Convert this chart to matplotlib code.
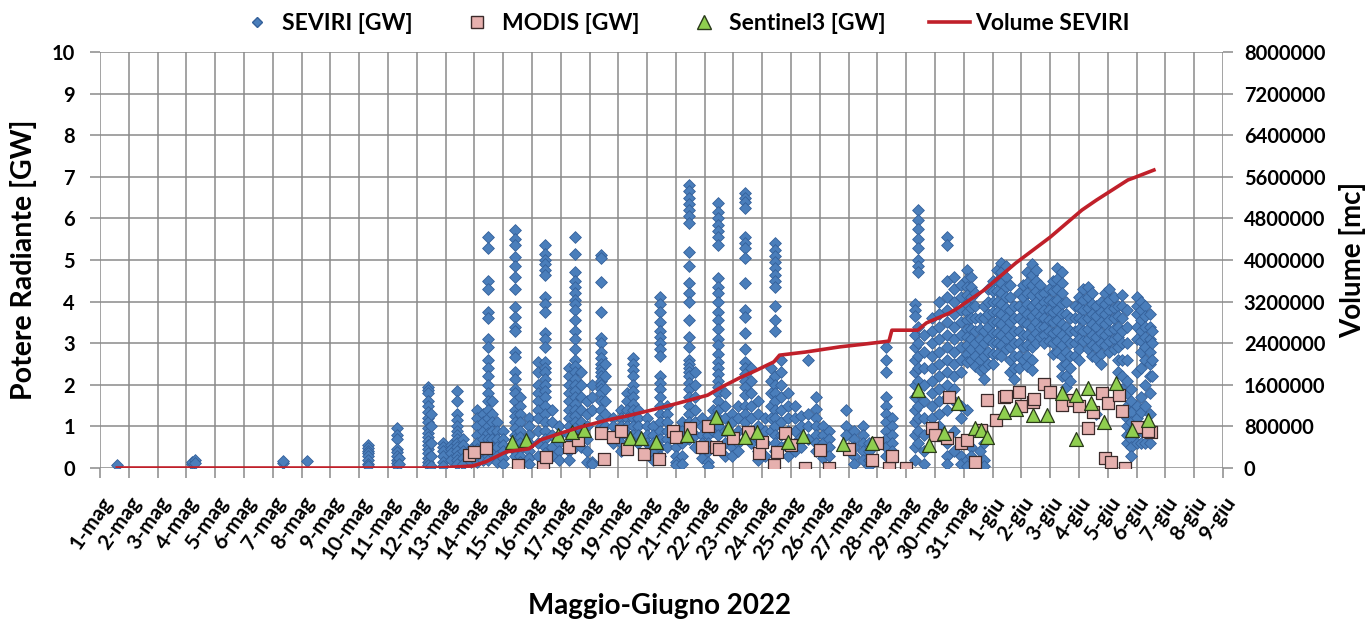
import numpy as np
import matplotlib
matplotlib.use('Agg')
import matplotlib.pyplot as plt
import matplotlib.transforms as mtransforms
from matplotlib.lines import Line2D
from matplotlib import font_manager as fm


def _has_bold(fam):
    for f in fm.fontManager.ttflist:
        if f.name != fam:
            continue
        w = f.weight
        if isinstance(w, str):
            if 'bold' in w.lower() or 'heavy' in w.lower() or 'black' in w.lower():
                return True
        elif w >= 600:
            return True
    return False


_fam = 'DejaVu Sans'
for cand in ['Lato', 'Open Sans', 'Noto Sans', 'Roboto', 'Liberation Sans']:
    if _has_bold(cand):
        _fam = cand
        break
plt.rcParams['font.family'] = [_fam, 'DejaVu Sans']
plt.rcParams['font.weight'] = 'bold'
plt.rcParams['axes.labelweight'] = 'bold'

# ---------------- data ----------------
day_labels = ['1-mag', '2-mag', '3-mag', '4-mag', '5-mag', '6-mag', '7-mag', '8-mag', '9-mag', '10-mag',
              '11-mag', '12-mag', '13-mag', '14-mag', '15-mag', '16-mag', '17-mag', '18-mag', '19-mag',
              '20-mag', '21-mag', '22-mag', '23-mag', '24-mag', '25-mag', '26-mag', '27-mag', '28-mag',
              '29-mag', '30-mag', '31-mag', '1-giu', '2-giu', '3-giu', '4-giu', '5-giu', '6-giu', '7-giu',
              '8-giu', '9-giu']

# SEVIRI: time (days since 1 May) of each burst and the radiant power values [GW] of that burst
seviri_day = [0.6, 3.2, 3.3, 6.35, 7.2, 9.3, 10.3, 10.4, 11.4, 11.5, 11.9, 12.2, 12.4, 12.6, 12.9,
              13.1, 13.3, 13.47, 13.6, 13.8, 14.0, 14.4, 14.6, 14.9, 15.2, 15.45, 15.7, 15.95,
              16.3, 16.5, 16.7, 16.9, 17.1, 17.4, 17.55, 17.8, 18.1, 18.3, 18.5, 18.7,
              19.0, 19.2, 19.45, 19.7, 20.0, 20.2, 20.45, 20.65, 20.9, 21.1, 21.3, 21.45, 21.7,
              21.95, 22.15, 22.4, 22.6, 22.85, 23.1, 23.3, 23.45, 23.65, 23.9, 24.15, 24.35, 24.6,
              24.85, 25.1, 25.3, 25.9, 26.2, 26.5, 26.7, 27.3, 27.5, 28.3, 28.4, 28.6, 28.9, 29.15,
              29.4, 29.65, 29.9, 30.1, 30.25, 30.4, 30.55, 30.7, 30.85, 31.0, 31.15, 31.3, 31.45,
              31.6, 31.75, 31.9, 32.05, 32.2, 32.35, 32.5, 32.65, 32.8, 32.95, 33.1, 33.25, 33.4,
              33.55, 33.7, 33.85, 34.0, 34.15, 34.3, 34.45, 34.6, 34.75, 34.9, 35.05, 35.2, 35.35,
              35.5, 35.65, 35.8, 36.0, 36.15, 36.3, 36.45, 36.55]
seviri_gw = [
    [0.08], [0.1, 0.15], [0.2, 0.12], [0.12, 0.16], [0.17],
    [0.55, 0.48, 0.42, 0.35, 0.28, 0.2, 0.1, 0.05],
    [0.95, 0.8, 0.7, 0.45, 0.38, 0.3, 0.2, 0.12, 0.05],
    [0.25, 0.1],
    [1.95, 1.88, 1.8, 1.6, 1.5, 1.35, 1.2, 1.1, 0.95, 0.85, 0.75, 0.65, 0.55, 0.45, 0.35, 0.25, 0.15, 0.08],
    [1.3, 1.0, 0.6, 0.3, 0.05],
    [0.6, 0.5, 0.4, 0.3, 0.15, 0.05],
    [0.55, 0.45, 0.35, 0.2],
    [1.85, 1.6, 1.3, 1.15, 1.0, 0.9, 0.8, 0.7, 0.6, 0.5, 0.4, 0.3, 0.2, 0.1],
    [0.7, 0.55, 0.4, 0.25, 0.1],
    [0.45, 0.3, 0.15],
    [1.4, 1.2, 1.0, 0.8, 0.6, 0.45, 0.3, 0.15],
    [1.3, 1.1, 0.9, 0.7, 0.5, 0.35, 0.2],
    [5.55, 5.3, 4.5, 4.3, 3.75, 3.6, 3.1, 2.9, 2.6, 2.4, 2.2, 2.0, 1.8, 1.6, 1.4, 1.2, 1.0, 0.85, 0.7, 0.55, 0.4, 0.3, 0.2],
    [1.6, 1.3, 1.1, 0.9, 0.7, 0.5, 0.35],
    [1.1, 0.9, 0.7, 0.5, 0.3, 0.15],
    [0.9, 0.7, 0.55, 0.4, 0.25, 0.1],
    [5.72, 5.5, 5.35, 5.07, 4.85, 4.6, 4.3, 3.87, 3.64, 3.4, 3.3, 2.8, 2.68, 2.3, 2.15, 1.9, 1.8, 1.6, 1.4, 1.25, 1.1, 0.95, 0.8, 0.7, 0.6, 0.5, 0.4, 0.3],
    [1.7, 1.5, 1.3, 1.1, 0.9, 0.75, 0.6, 0.45, 0.3, 0.15],
    [1.2, 1.0, 0.8, 0.6, 0.4, 0.25, 0.1],
    [2.55, 2.3, 2.0, 1.8, 1.6, 1.4, 1.2, 0.9, 0.6, 0.3],
    [5.36, 5.15, 5.0, 4.9, 4.75, 4.65, 4.1, 3.95, 3.75, 3.25, 3.1, 2.9, 2.55, 2.4, 2.3, 2.15, 2.0, 1.85, 1.7, 1.5, 1.3, 1.1, 0.9, 0.7, 0.5, 0.35, 0.2],
    [1.4, 1.1, 0.8, 0.5, 0.3],
    [1.0, 0.8, 0.6, 0.4, 0.2],
    [2.4, 2.2, 2.0, 1.8, 1.6, 1.4, 1.2, 1.0, 0.8, 0.6, 0.4, 0.2],
    [5.55, 5.15, 4.7, 4.5, 4.35, 4.2, 4.05, 3.95, 3.8, 3.55, 3.3, 3.1, 2.85, 2.6, 2.45, 2.3, 2.15, 2.0, 1.85, 1.7, 1.55, 1.4, 1.25, 1.1, 0.95, 0.8, 0.65, 0.5],
    [2.3, 2.0, 1.7, 1.4, 1.1, 0.8, 0.5],
    [1.6, 1.3, 1.0, 0.7, 0.4, 0.15],
    [2.0, 1.7, 1.4, 0.15, 0.1],
    [5.12, 5.05, 4.47, 3.75, 3.12, 3.0, 2.8, 2.65, 2.5, 2.4, 2.3, 2.2, 2.1, 2.0, 1.9, 1.8, 1.6, 1.4, 1.2, 1.0, 0.85],
    [2.5, 2.2, 1.9, 1.6, 1.3, 1.0],
    [1.2, 1.0, 0.8, 0.6],
    [1.4, 1.2, 1.0, 0.8, 0.6, 0.4],
    [1.8, 1.6, 1.4, 1.2, 1.0, 0.8],
    [2.65, 2.5, 2.35, 2.2, 2.0, 1.85, 1.7, 1.55, 1.4, 1.2, 1.0, 0.8],
    [1.4, 1.2, 1.0, 0.8, 0.6],
    [1.2, 1.0, 0.8, 0.6, 0.4],
    [1.0, 0.8, 0.6, 0.35, 0.2],
    [4.1, 3.95, 3.75, 3.5, 3.3, 3.15, 3.0, 2.85, 2.7, 2.2, 2.05, 1.9, 1.7, 1.5, 1.3, 1.1, 0.9, 0.7, 0.5, 0.3],
    [1.5, 1.3, 1.1, 0.9, 0.7, 0.5],
    [0.9, 0.7, 0.5, 0.3, 0.15, 0.08],
    [1.1, 0.9, 0.6, 0.3, 0.1],
    [6.8, 6.65, 6.5, 6.35, 6.2, 6.05, 5.9, 5.2, 4.85, 4.45, 4.2, 4.0, 3.55, 3.15, 2.9, 2.6, 2.5, 2.4, 2.3, 2.2, 2.05, 1.9, 1.7, 1.5, 1.3, 1.1, 0.9, 0.7],
    [2.3, 2.0, 1.7, 1.4, 1.1, 0.8, 0.5],
    [1.2, 1.0, 0.8, 0.6, 0.4, 0.25],
    [1.0, 0.8, 0.6, 0.4, 0.15, 0.05],
    [1.4, 1.2, 0.9],
    [6.37, 6.15, 6.0, 5.85, 5.7, 5.55, 5.35, 4.57, 4.35, 4.2, 4.0, 3.75, 3.55, 3.35, 3.1, 2.95, 2.75, 2.55, 2.4, 2.25, 2.1, 1.95, 1.8, 1.6, 1.4, 1.2, 1.0, 0.8],
    [1.8, 1.5, 1.2, 0.9, 0.6, 0.3],
    [1.3, 1.1, 0.8, 0.5, 0.3],
    [1.5, 1.2, 0.9, 0.6, 0.4],
    [6.6, 6.5, 6.4, 6.25, 5.55, 5.4, 5.3, 5.05, 4.45, 3.8, 3.63, 3.25, 2.85, 2.55, 2.4, 2.25, 2.1, 1.95, 1.75, 1.5, 1.3, 1.1, 0.9],
    [2.4, 2.1, 1.8, 1.5, 1.2, 0.9, 0.6],
    [1.6, 1.3, 1.0, 0.7, 0.4, 0.2],
    [1.2, 0.9, 0.6, 0.3],
    [2.4, 2.1, 1.8, 1.5, 1.2, 0.9],
    [5.4, 5.25, 5.1, 4.95, 4.8, 4.65, 4.5, 4.35, 3.9, 3.55, 3.3, 2.2, 2.0, 1.8, 1.6, 1.4, 1.2, 1.0, 0.8, 0.6, 0.4],
    [2.6, 2.3, 2.0, 1.7, 1.4, 1.1, 0.8, 0.5],
    [1.8, 1.5, 1.2, 0.9, 0.6, 0.3],
    [1.5, 1.2, 0.9, 0.6, 0.4],
    [1.25, 1.0, 0.75, 0.5],
    [2.6, 1.3, 1.0, 0.7],
    [1.7, 1.43, 1.2, 1.0, 0.8, 0.6, 0.4],
    [1.0, 0.8, 0.6, 0.4, 0.25],
    [0.9, 0.7, 0.5, 0.3],
    [1.4, 1.0, 0.8],
    [0.9, 0.7, 0.5, 0.3, 0.1],
    [1.0, 0.8, 0.6, 0.4, 0.2],
    [0.6, 0.4, 0.2, 0.05],
    [2.9, 2.6, 2.3, 1.7, 1.5, 1.3, 1.1, 0.9, 0.7, 0.5, 0.3],
    [1.2, 1.0, 0.8, 0.6, 0.4, 0.2],
    [3.95, 3.8, 3.65, 3.2, 2.9, 2.6, 2.3, 2.0, 1.7, 1.4, 1.1, 0.8, 0.5, 0.2],
    [6.2, 5.95, 5.75, 5.5, 5.3, 5.0, 4.85, 4.7, 3.4, 3.0, 2.7, 2.4, 2.1, 1.8, 1.5, 1.2, 0.9, 0.6],
    [3.2, 2.8, 2.4, 2.0, 1.6, 1.2, 0.8, 0.4, 0.1],
    [3.6, 3.3, 3.0, 2.7, 2.4, 2.1, 1.8, 1.5, 1.2],
    [4.0, 3.7, 3.4, 3.1, 2.8, 2.5, 2.2, 1.9, 1.6, 1.3, 1.0],
    [5.55, 5.35, 4.5, 4.1, 3.8, 3.5, 3.2, 2.9, 2.6, 2.3, 2.0, 1.7, 1.4, 0.6, 0.3, 0.1],
    [4.6, 4.3, 4.0, 3.7, 3.4, 3.1, 2.8, 2.5, 2.2, 1.9, 1.6, 0.9, 0.4],
    [4.4, 4.1, 3.8, 3.5, 3.2, 2.9, 2.6, 2.3, 1.5, 1.2, 0.3, 0.1],
    [4.75, 4.55, 4.35, 4.15, 3.95, 3.75, 3.55, 3.35, 3.15, 2.95, 2.75, 2.55, 1.4, 0.2, 0.05],
    [4.6, 4.35, 4.1, 3.85, 3.6, 3.35, 3.1, 2.85, 2.6, 0.5, 0.3],
    [4.2, 3.9, 3.6, 3.3, 3.0, 2.7, 2.45],
    [3.6, 3.35, 3.1, 2.85, 2.6, 2.35, 0.9, 0.4, 0.1],
    [3.9, 3.6, 3.3, 3.0, 2.7, 2.4, 2.15, 0.6, 0.2, 0.05],
    [4.3, 4.0, 3.7, 3.4, 3.1, 2.8, 2.5],
    [4.5, 4.25, 4.0, 3.75, 3.5, 3.25, 3.0, 2.75, 2.5],
    [4.75, 4.5, 4.25, 4.0, 3.75, 3.5, 3.25, 3.0, 2.75],
    [4.93, 4.7, 4.45, 4.2, 3.95, 3.7, 3.45, 3.2, 2.95, 2.7],
    [4.85, 4.6, 4.35, 4.1, 3.85, 3.6, 3.35, 3.1, 2.85],
    [4.4, 4.1, 3.8, 3.5, 3.2, 2.9, 2.6, 2.3],
    [3.9, 3.6, 3.3, 3.0, 2.7, 2.4, 2.15],
    [4.2, 3.9, 3.6, 3.3, 3.0, 2.7, 2.4],
    [4.4, 4.1, 3.8, 3.5, 3.2, 2.9, 2.6],
    [4.7, 4.45, 4.2, 3.95, 3.7, 3.45, 3.2, 2.95, 2.7, 2.45],
    [4.9, 4.65, 4.4, 4.15, 3.9, 3.65, 3.4, 3.15, 2.9, 2.6, 2.36],
    [4.75, 4.5, 4.25, 4.0, 3.75, 3.5, 3.25, 3.0],
    [4.4, 4.15, 3.9, 3.65, 3.4, 3.15],
    [4.2, 4.0, 3.8, 3.6, 3.4, 3.2, 3.0],
    [4.3, 4.05, 3.8, 3.55, 3.3, 3.05],
    [4.5, 4.25, 4.0, 3.75, 3.5, 3.25, 3.0, 2.75],
    [4.8, 4.55, 4.3, 4.05, 3.8, 3.55, 3.3, 3.05, 2.8],
    [4.7, 4.45, 4.2, 3.95, 3.7, 3.45, 3.2, 2.95, 2.7, 2.45, 2.2],
    [4.0, 3.7, 3.4, 3.1, 2.8, 2.5, 2.2, 1.95],
    [3.6, 3.3, 3.0, 2.7, 2.4, 2.1],
    [3.9, 3.6, 3.3, 3.0, 2.7],
    [4.1, 3.85, 3.6, 3.35, 3.1, 2.85, 2.6],
    [4.3, 4.05, 3.8, 3.55, 3.3, 3.05],
    [4.35, 4.1, 3.85, 3.6, 3.35, 3.1, 2.85],
    [4.2, 3.95, 3.7, 3.45, 3.2, 2.95, 2.7],
    [3.9, 3.65, 3.4, 3.15, 2.9, 2.65, 1.3],
    [4.0, 3.75, 3.5, 3.25, 3.0, 2.75, 2.5],
    [4.2, 3.95, 3.7, 3.45, 3.2, 2.95],
    [4.3, 4.05, 3.8, 3.55, 3.3, 3.05, 2.8],
    [4.1, 3.85, 3.6, 3.35, 3.1, 2.85],
    [3.9, 3.65, 3.4, 3.15, 2.9, 2.6, 2.3],
    [4.15, 3.9, 3.6, 3.3, 3.0, 2.6, 2.2, 1.9],
    [3.8, 3.4, 3.0, 2.6, 2.1, 1.8, 1.5, 1.2, 1.0, 0.8, 0.6],
    [1.9, 1.6, 1.35, 1.1, 0.9, 0.7, 0.5, 0.3],
    [4.1, 3.9, 3.7, 3.4, 3.1, 2.3, 1.5, 1.2, 0.9, 0.6],
    [4.0, 3.8, 3.55, 3.3, 3.05, 2.8, 2.4, 1.7, 1.35, 0.9, 0.6],
    [3.9, 3.65, 3.4, 3.15, 2.9, 2.6, 2.0, 1.5, 1.0, 0.6],
    [3.7, 3.4, 3.1, 2.8, 2.5, 2.2, 1.8, 1.3, 0.9, 0.6],
    [3.3, 3.0, 2.6, 2.2],
]

modis_day = [12.8, 13.0, 13.4, 14.5, 15.4, 15.5, 16.3, 16.6, 17.4, 17.5, 17.8, 18.1, 18.3, 18.9, 19.4,
             19.9, 20.0, 20.5, 20.9, 21.1, 21.4, 21.5, 22.0, 22.5, 22.9, 23.0, 23.4, 23.5, 23.8, 24.0,
             24.5, 25.0, 25.3, 26.0, 26.8, 27.0, 27.4, 27.5, 28.0, 28.9, 29.0, 29.4, 29.5, 29.9, 30.1,
             30.4, 30.6, 30.8, 31.1, 31.4, 31.45, 31.9, 32.0, 32.4, 32.45, 32.8, 33.0, 33.4, 33.8, 34.0,
             34.3, 34.5, 34.8, 35.0, 34.9, 35.1, 35.6, 35.4, 35.5, 36.0, 36.5, 36.4]
modis_gw = [0.31, 0.38, 0.48, 0.07, 0.03, 0.26, 0.5, 0.67, 0.84, 0.22, 0.75, 0.9, 0.46, 0.34, 0.22,
            0.9, 0.75, 0.96, 0.5, 1.0, 0.5, 0.46, 0.72, 0.86, 0.36, 0.63, 0.07, 0.38, 0.84, 0.55,
            0.0, 0.43, 0.0, 0.46, 0.19, 0.6, 0.0, 0.29, 0.0, 0.96, 0.79, 0.72, 1.7, 0.6, 0.67,
            0.14, 0.91, 1.63, 1.15, 1.7, 1.72, 1.83, 1.49, 1.59, 1.65, 2.02, 1.83, 1.51, 1.63, 1.49,
            0.96, 1.35, 1.8, 1.56, 0.24, 0.14, 0.0, 1.75, 1.37, 0.99, 0.87, 0.9]

s3_day = [14.3, 14.8, 15.9, 16.4, 16.8, 18.4, 18.8, 19.3, 20.4, 21.4, 21.8, 22.4, 22.8, 23.9, 24.4,
          25.8, 26.8, 28.4, 28.8, 29.3, 29.8, 30.4, 30.6, 30.8, 31.4, 31.8, 32.4, 32.9, 33.4, 33.9,
          33.9, 34.3, 34.4, 34.85, 35.3, 35.85, 36.4]
s3_gw = [0.63, 0.67, 0.79, 0.87, 0.91, 0.72, 0.72, 0.63, 0.79, 1.23, 0.96, 0.75, 0.87, 0.63, 0.77,
         0.58, 0.6, 1.88, 0.55, 0.84, 1.56, 0.96, 0.91, 0.75, 1.35, 1.42, 1.27, 1.27, 1.8, 1.75,
         0.7, 1.93, 1.56, 1.1, 2.05, 0.92, 1.16]

vol_day = [0.6, 11.8, 12.95, 13.4, 14.1, 14.9, 15.3, 16.0, 16.7, 17.6, 18.3, 19.2, 20.1, 21.1, 21.6,
           22.2, 22.8, 23.4, 23.6, 24.5, 25.7, 26.5, 27.4, 27.5, 28.4, 28.7, 29.5, 29.8, 30.7, 31.8,
           33.0, 34.1, 34.6, 35.7, 35.9, 36.6]
vol_mc = [0, 0, 40000, 120000, 310000, 370000, 540000, 670000, 790000, 920000, 1000000, 1120000,
          1250000, 1400000, 1560000, 1730000, 1880000, 2040000, 2170000, 2230000, 2330000, 2380000,
          2440000, 2650000, 2650000, 2790000, 2980000, 3080000, 3420000, 3940000, 4440000, 4960000,
          5150000, 5540000, 5580000, 5730000]

# ---------------- figure ----------------
fig = plt.figure(figsize=(13.68, 6.25), dpi=100)
ax = fig.add_axes([100 / 1368, 1 - 468 / 625, 1123 / 1368, 416 / 625])
ax2 = ax.twinx()

grid_c = '#8a8a8a'
blue_f, blue_e = '#4a7ebb', '#34609a'
pink_f, pink_e = '#e6b0ae', '#3a2a2a'
green_f, green_e = '#8fce4f', '#2a3a1a'
red = '#c0202a'

sx = np.repeat(seviri_day, [len(v) for v in seviri_gw])
sy = np.concatenate([np.asarray(v, float) for v in seviri_gw])
ax.scatter(sx, sy, marker='D', s=36, facecolor=blue_f, edgecolor=blue_e, linewidth=0.6, zorder=3)
ax.scatter(modis_day, modis_gw, marker='s', s=72, facecolor=pink_f, edgecolor=pink_e, linewidth=0.9, zorder=4)
ax.scatter(s3_day, s3_gw, marker='^', s=100, facecolor=green_f, edgecolor=green_e, linewidth=0.9, zorder=5)
ax2.plot(vol_day, vol_mc, color=red, linewidth=2.6, zorder=6)

ax.set_xlim(0, 39)
ax.set_ylim(0, 10)
ax2.set_ylim(0, 8000000)
ax.set_xticks(range(40))
ax.set_xticklabels(day_labels, rotation=55, ha='right', rotation_mode='anchor', fontsize=15, fontweight='bold')
shift = mtransforms.ScaledTranslation(5 / 100, -2 / 100, fig.dpi_scale_trans)
for lab in ax.get_xticklabels():
    lab.set_transform(lab.get_transform() + shift)
ax.set_yticks(range(11))
ax.set_yticklabels([str(i) for i in range(11)], fontsize=14.5, fontweight='bold')
ax2.set_yticks(np.arange(0, 8000001, 800000))
ax2.set_yticklabels([str(v) for v in range(0, 8000001, 800000)], fontsize=14.5, fontweight='bold')
ax.grid(True, color=grid_c, linewidth=1.1, zorder=0)
ax.set_axisbelow(True)
for a in (ax, ax2):
    for sp in a.spines.values():
        sp.set_visible(False)
ax.tick_params(axis='y', length=7, color=grid_c, width=1.1, pad=11)
ax.tick_params(axis='x', length=7, color=grid_c, width=1.1, pad=11)
ax2.tick_params(axis='y', length=7, color=grid_c, width=1.1, pad=8)

ax.set_ylabel('Potere Radiante [GW]', fontsize=20.5, fontweight='bold')
ax.yaxis.set_label_coords(-0.056, 0.5)
ax2.set_ylabel('Volume [mc]', fontsize=20, fontweight='bold')
ax2.yaxis.set_label_coords(1.103, 0.5)
ax.set_xlabel('Maggio-Giugno 2022', fontsize=20, fontweight='bold')
ax.xaxis.set_label_coords(0.498, -0.30)

handles = [Line2D([], [], marker='D', linestyle='none', markersize=5.5, markerfacecolor=blue_f, markeredgecolor=blue_e),
           Line2D([], [], marker='s', linestyle='none', markersize=8.5, markerfacecolor=pink_f, markeredgecolor=pink_e),
           Line2D([], [], marker='^', linestyle='none', markersize=9.5, markerfacecolor=green_f, markeredgecolor=green_e),
           Line2D([], [], color=red, linewidth=2.6)]
fig.legend(handles, ['SEVIRI [GW]', 'MODIS [GW]', 'Sentinel3 [GW]', 'Volume SEVIRI'],
           loc='upper center', bbox_to_anchor=(0.499, 1.012), ncol=4, frameon=False,
           prop={'size': 16.5, 'weight': 'bold'}, handlelength=1.8, handletextpad=0.2, columnspacing=1.9)

fig.savefig('out.png', dpi=100)
